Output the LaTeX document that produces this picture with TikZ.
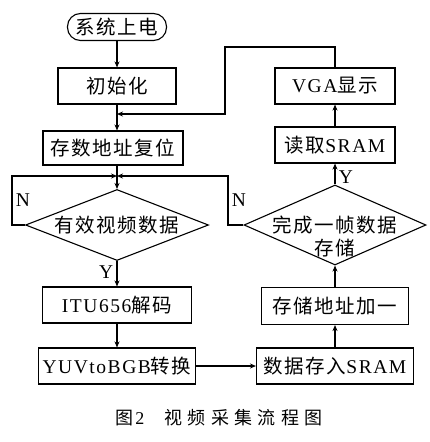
\documentclass[tikz,border=0pt]{standalone}
\usepackage{fontspec}
\setmainfont[LetterSpace=8]{Liberation Serif}
\newfontfamily\cjk[LetterSpace=8]{Noto Sans CJK SC}
\newfontfamily\cjkcap[LetterSpace=30]{Noto Sans CJK SC}
\usetikzlibrary{arrows.meta,shapes.geometric}

\begin{document}
\begin{tikzpicture}[x=1pt,y=-1pt,line width=1.1pt,
  font=\fontsize{19.5}{23}\selectfont,
  >={Stealth[length=6pt,width=5pt]},
  blk/.style n args={2}{draw,rectangle,minimum width=#1pt,minimum height=#2pt,inner sep=0pt},
  term/.style={draw,rectangle,rounded corners=13pt,minimum width=99pt,minimum height=27pt,inner sep=0pt},
  dec/.style n args={2}{draw,diamond,minimum width=#1pt,minimum height=#2pt,inner sep=0pt}]
\useasboundingbox (0,0) rectangle (430,442);
% left column
\node[term] (start) at (117,27) {\cjk 系统上电};
\node[blk={118}{36}] (init) at (117,86) {\cjk 初始化};
\node[blk={140}{34}] (reset) at (113,148) {\cjk 存数地址复位};
\node[dec={183}{71}] (valid) at (117,225) {};
\node (validtxt) at (valid) {\cjk 有效视频数据};
\node[blk={149}{36}] (itu) at (117,305) {ITU656{\cjk 解码}};
\node[blk={157}{36}] (yuv) at (117,366) {YUVtoBGB{\cjk 转换}};
% right column
\node[blk={157}{36}] (store) at (335,366) {{\cjk 数据存入}SRAM};
\node[blk={147}{37}] (addr) at (335,306) {\cjk 存储地址加一};
\node[dec={182}{80}] (done) at (335,225) {};
\node[align=center] (donetxt) at (335,236) {\cjk 完成一帧数据\\\cjk 存储};
\node[blk={120}{36}] (read) at (335,145) {{\cjk 读取}SRAM};
\node[blk={120}{36}] (vga) at (335,86) {VGA{\cjk 显示}};
% junctions
\coordinate (j1) at (117,114);
\coordinate (j2) at (117,176);
\coordinate (looptop) at (225,47);
\coordinate (nleft) at (12,225);
\coordinate (nright) at (228,225);
% connectors
\draw[->] (start) -- (init);
\draw[->] (init.south) -- (init.south |- reset.north);
\draw[->] (reset.south -| valid.north) -- (valid.north);
\draw[->] (valid.south) -- node[pos=0.45,left]{Y} (itu.north);
\draw[->] (itu) -- (yuv);
\draw[->] (yuv) -- (store);
\draw[->] (store) -- (addr);
\draw[->] (addr) -- (done.south);
\draw[->] (done.north) -- node[pos=0.35,right]{Y} (read);
\draw[->] (read) -- (vga);
\draw[->] (vga.north) |- (looptop) |- (j1);
\draw[->] (valid.west) -- (nleft) |- node[pos=0.25,right]{N} (j2);
\draw[->] (done.west) -- (nright) |- node[pos=0.25,right]{N} (j2);
% caption
\node[font=\fontsize{18}{20}\selectfont] (cap) at (219,418) {{\cjkcap 图}\hspace{2pt}2\hspace{20pt}{\cjkcap 视频采集流程图}};
\end{tikzpicture}
\end{document}
